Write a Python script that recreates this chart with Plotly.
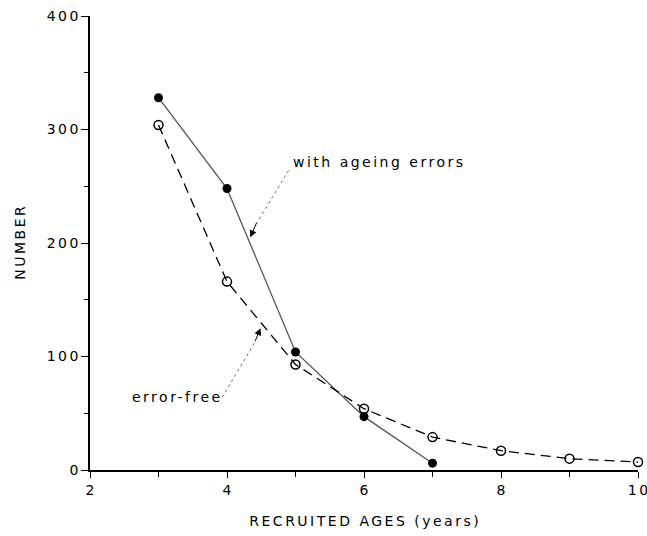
import plotly.graph_objects as go

ages_err = [3, 4, 5, 6, 7]
num_err = [328, 248, 104, 47, 6]
ages_free = [3, 4, 5, 6, 7, 8, 9, 10]
num_free = [304, 166, 93, 54, 29, 17, 10, 7]
x_ticks = [2, 4, 6, 8, 10]
y_ticks = [0, 100, 200, 300, 400]

FONT = "DejaVu Sans"
LS = "letter-spacing:2.5px"


def sp(t):
    t = str(t)
    if len(t) < 2:
        return t
    return f'<span style="{LS}">{t[:-1]}</span>{t[-1]}'


fig = go.Figure()
fig.add_trace(go.Scatter(
    x=ages_err, y=num_err, mode="lines+markers",
    line=dict(color="#555555", width=1.3, dash="solid"),
    marker=dict(symbol="circle", size=9, color="black"),
    showlegend=False, cliponaxis=False))
fig.add_trace(go.Scatter(
    x=ages_free, y=num_free, mode="lines+markers",
    line=dict(color="black", width=1.3, dash="10px,6px"),
    marker=dict(symbol="circle-open", size=9, color="black", line=dict(width=1.5)),
    showlegend=False, cliponaxis=False))

# dotted leader lines
fig.add_shape(type="line", x0=4.90, y0=264, x1=4.42, y1=216,
              line=dict(color="#777777", width=1, dash="dot"))
fig.add_shape(type="line", x0=3.93, y0=64, x1=4.40, y1=112,
              line=dict(color="#777777", width=1, dash="dot"))
# arrowheads
fig.add_annotation(x=4.34, y=205, ax=4.44, ay=219, axref="x", ayref="y",
                   xref="x", yref="y", text="", showarrow=True,
                   arrowhead=2, arrowsize=1.4, arrowwidth=1, arrowcolor="black")
fig.add_annotation(x=4.49, y=125, ax=4.40, ay=112, axref="x", ayref="y",
                   xref="x", yref="y", text="", showarrow=True,
                   arrowhead=2, arrowsize=1.4, arrowwidth=1, arrowcolor="black")

fig.add_annotation(x=4.93, y=271, text=sp("with ageing errors"), showarrow=False,
                   xanchor="left", yanchor="middle",
                   font=dict(family=FONT, size=14, color="black"))
fig.add_annotation(x=3.93, y=64, text=sp("error-free"), showarrow=False,
                   xanchor="right", yanchor="middle",
                   font=dict(family=FONT, size=14, color="black"))

fig.update_layout(
    width=647, height=536,
    margin=dict(l=90, r=9, t=16, b=66),
    plot_bgcolor="white", paper_bgcolor="white",
    font=dict(family=FONT, size=14, color="black"),
    xaxis=dict(range=[2, 10], tickvals=x_ticks, ticktext=[sp(v) for v in x_ticks],
               showgrid=False, zeroline=False, ticklabeloverflow="allow",
               automargin=False,
               showline=True, linecolor="black", linewidth=1.5,
               ticks="outside", ticklen=6, tickcolor="black",
               minor=dict(dtick=1, tick0=2, ticks="outside", ticklen=5, tickcolor="black"),
               title=dict(text=sp("RECRUITED AGES (years)"), standoff=20,
                          font=dict(family=FONT, size=14))),
    yaxis=dict(range=[0, 400], tickvals=y_ticks, ticktext=[sp(v) for v in y_ticks],
               showgrid=False, zeroline=False, ticklabeloverflow="allow",
               automargin=False,
               showline=True, linecolor="black", linewidth=1.5,
               ticks="outside", ticklen=7, tickcolor="black",
               minor=dict(dtick=50, ticks="outside", ticklen=4, tickcolor="black"),
               title=dict(text=sp("NUMBER"), standoff=18,
                          font=dict(family=FONT, size=14))),
)

fig.write_html("out.html")
